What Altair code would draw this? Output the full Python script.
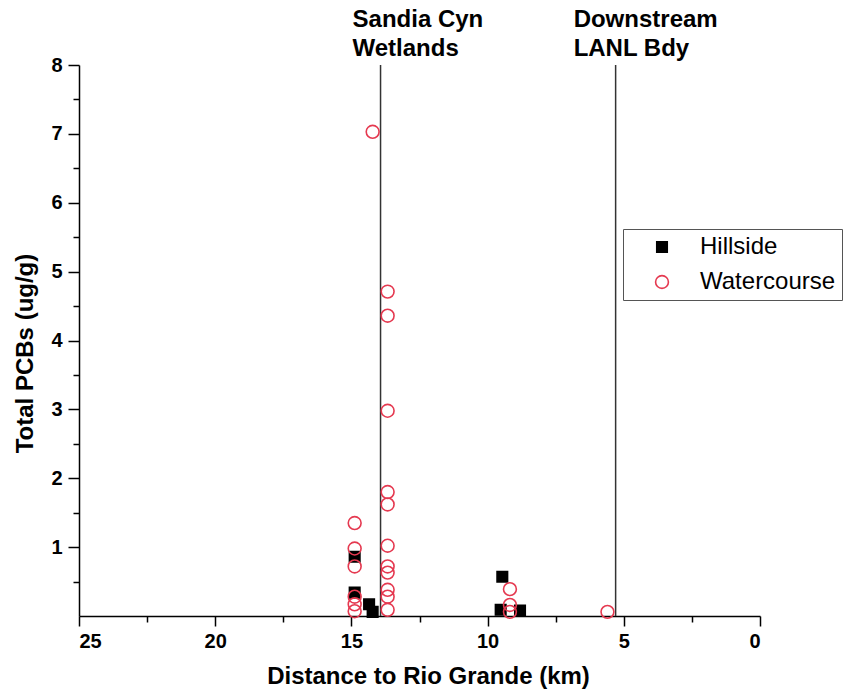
import altair as alt
import pandas as pd

# --- data ---
hill_x = [14.88, 14.88, 14.35, 14.22, 9.46, 9.52, 8.81]
hill_y = [0.86, 0.34, 0.17, 0.06, 0.57, 0.09, 0.08]

water_x = [14.22,
           14.88, 14.88, 14.88, 14.88, 14.88, 14.88,
           13.67, 13.67, 13.67, 13.67, 13.67, 13.67, 13.67, 13.67, 13.67, 13.67, 13.67,
           9.18, 9.18, 9.18,
           5.6]
water_y = [7.03,
           1.35, 0.98, 0.72, 0.28, 0.17, 0.07,
           4.71, 4.36, 2.98, 1.80, 1.62, 1.02, 0.72, 0.63, 0.38, 0.28, 0.09,
           0.39, 0.16, 0.06,
           0.06]

types = ["Hillside", "Watercourse"]

ref_x = [13.93, 5.3]
ref_labels = [["Sandia Cyn", "Wetlands"], ["Downstream", "LANL Bdy"]]

x_major = [0, 5, 10, 15, 20, 25]
x_minor = [2.5, 7.5, 12.5, 17.5, 22.5]
y_major = [1, 2, 3, 4, 5, 6, 7, 8]
y_minor = [0.5, 1.5, 2.5, 3.5, 4.5, 5.5, 6.5, 7.5]

df = pd.DataFrame({
    "dist": hill_x + water_x,
    "pcb": hill_y + water_y,
    "type": ["Hillside"] * len(hill_x) + ["Watercourse"] * len(water_x),
})
ref_df = pd.DataFrame({"dist": ref_x})

FONT = "Liberation Sans"
RED = "#e53950"

xscale = alt.Scale(domain=[0, 25], reverse=True, nice=False)
yscale = alt.Scale(domain=[0, 8], nice=False)

points = alt.Chart(df).mark_point(strokeWidth=1.6, opacity=1).encode(
    x=alt.X("dist:Q", scale=xscale,
            axis=alt.Axis(values=x_major, tickSize=10, labelPadding=5, format="d",
                          title="Distance to Rio Grande (km)", titlePadding=13,
                          titleX=349, orient="bottom")),
    y=alt.Y("pcb:Q", scale=yscale,
            axis=alt.Axis(values=y_major, tickSize=11, labelPadding=6, format="d",
                          title="Total PCBs (ug/g)", titlePadding=13,
                          titleY=288, orient="left")),
    color=alt.Color("type:N", scale=alt.Scale(domain=types, range=["black", RED]),
                    legend=alt.Legend(title=None)),
    fill=alt.Fill("type:N", scale=alt.Scale(domain=types, range=["black", "transparent"]),
                  legend=alt.Legend(title=None)),
    shape=alt.Shape("type:N", scale=alt.Scale(domain=types, range=["square", "circle"]),
                    legend=alt.Legend(title=None)),
    size=alt.Size("type:N", scale=alt.Scale(domain=types, range=[110, 165]),
                  legend=alt.Legend(title=None)),
)

minor = alt.Chart(df).mark_point(opacity=0).encode(
    x=alt.X("dist:Q", scale=xscale,
            axis=alt.Axis(values=x_minor, tickSize=6, labels=False, domain=False,
                          title=None, orient="bottom")),
    y=alt.Y("pcb:Q", scale=yscale,
            axis=alt.Axis(values=y_minor, tickSize=6, labels=False, domain=False,
                          title=None, orient="left")),
)

rules = alt.Chart(ref_df).mark_rule(color="#333333", strokeWidth=1.5).encode(
    x=alt.X("dist:Q", scale=xscale, axis=None)
)

text_layers = []
for i, dx in enumerate([-28, -42]):
    t = alt.Chart(pd.DataFrame({"dist": [ref_x[i]]})).mark_text(
        text=ref_labels[i], align="left", baseline="alphabetic", dx=dx,
        font=FONT, fontSize=24, fontWeight="bold", lineHeight=29, color="black"
    ).encode(
        x=alt.X("dist:Q", scale=xscale, axis=None),
        y=alt.value(-38),
    )
    text_layers.append(t)

chart = alt.layer(minor, rules, points, *text_layers).resolve_axis(
    x="independent", y="independent"
).properties(
    width=681, height=551,
    autosize=alt.AutoSizeParams(type="none"),
    padding={"left": 79, "top": 65, "right": 89, "bottom": 82},
    background="white",
).configure_view(stroke=None).configure_axis(
    labelFont=FONT, labelFontSize=20, labelFontWeight="bold", labelColor="black",
    titleFont=FONT, titleFontSize=24, titleFontWeight="bold", titleColor="black",
    domainColor="black", domainWidth=1.5, tickColor="black", tickWidth=1.5, grid=False,
).configure_legend(
    orient="none", legendX=544, legendY=164,
    labelFont=FONT, labelFontSize=24, labelColor="black",
    strokeColor="#555555", fillColor="white", padding=6,
    symbolOffset=21, labelOffset=26, rowPadding=11, symbolStrokeWidth=1.6,
    symbolSize=140,
)

chart.save("out.html", embed_options={"renderer": "svg", "actions": False})
